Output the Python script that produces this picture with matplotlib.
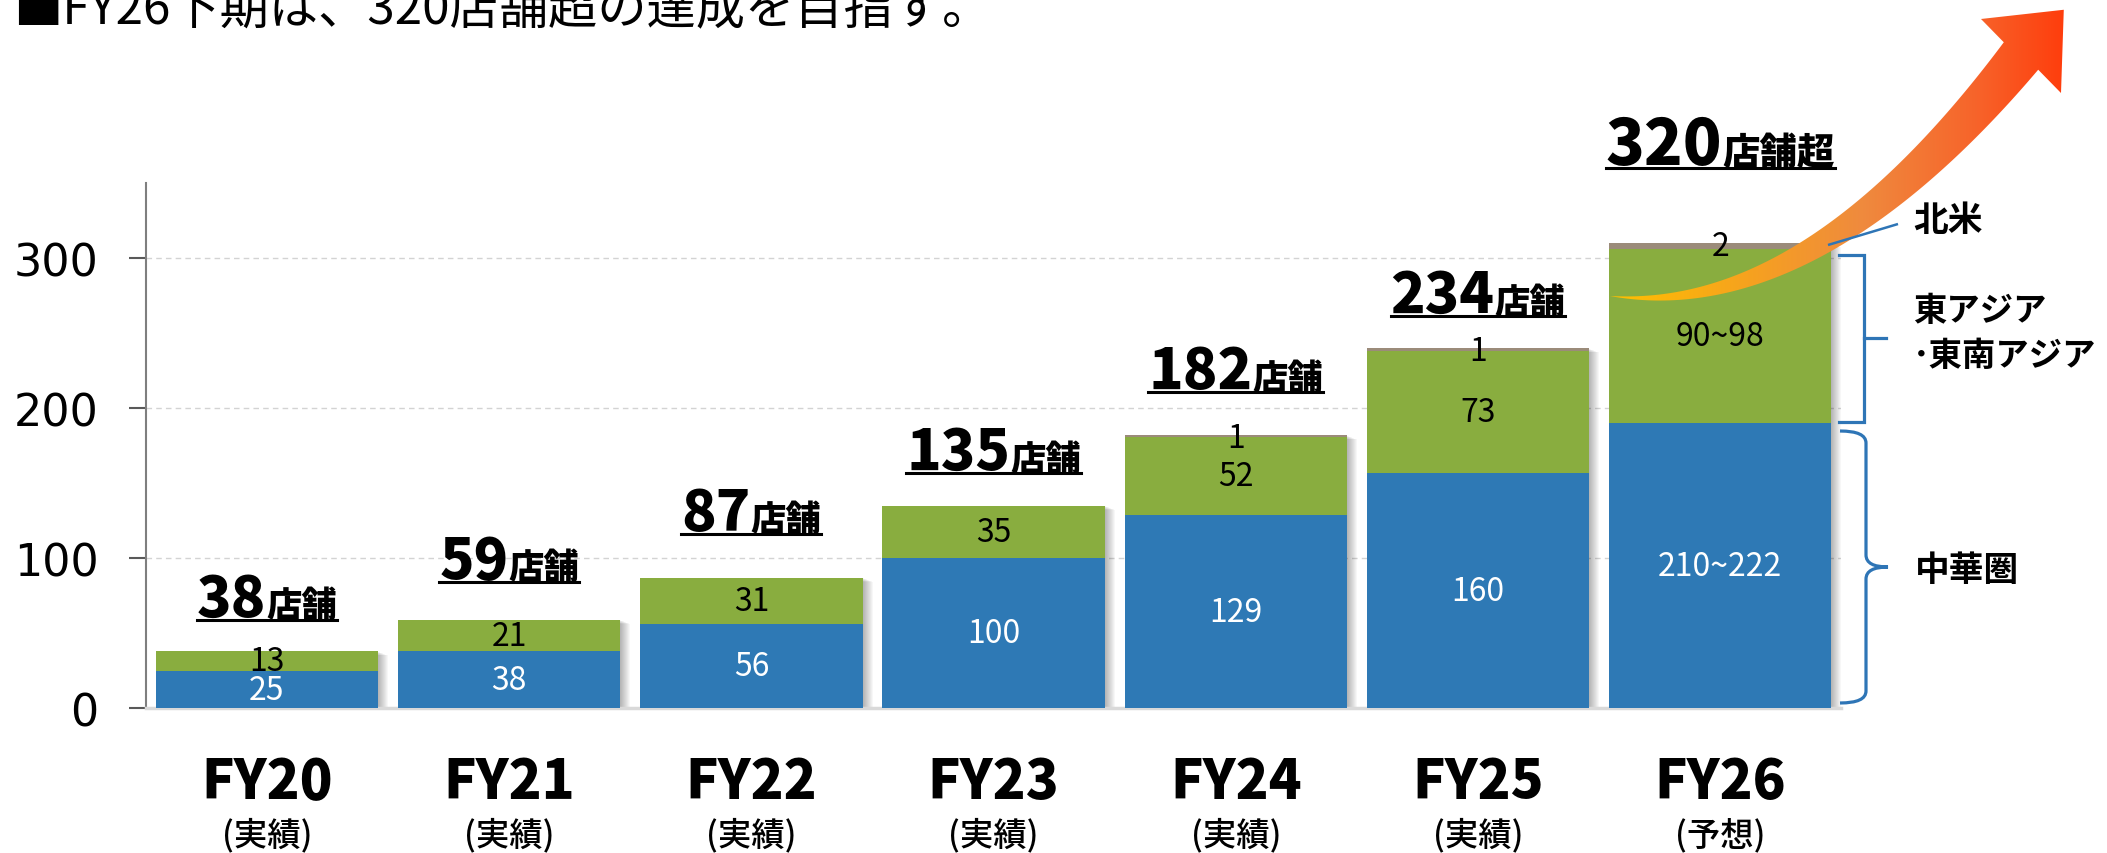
import numpy as np
import matplotlib
matplotlib.use('Agg')
import matplotlib.pyplot as plt
from matplotlib.path import Path
from matplotlib.patches import PathPatch, Polygon
from matplotlib.transforms import ScaledTranslation, IdentityTransform
from matplotlib.colors import LinearSegmentedColormap
from matplotlib.lines import Line2D

plt.rcParams['font.family'] = ['Noto Sans CJK JP', 'DejaVu Sans']

# ---------------- data ----------------
years = ['FY20', 'FY21', 'FY22', 'FY23', 'FY24', 'FY25', 'FY26']
status = ['(実績)', '(実績)', '(実績)', '(実績)', '(実績)', '(実績)', '(予想)']
china = [25, 38, 56, 100, 129, 157, 190]          # 中華圏 (drawn heights)
asia = [13, 21, 31, 35, 52, 81, 116]              # 東アジア・東南アジア
north_america = [0, 0, 0, 0, 1, 2, 4]             # 北米
china_labels = ['25', '38', '56', '100', '129', '160', '210~222']
asia_labels = ['13', '21', '31', '35', '52', '73', '90~98']
na_labels = ['', '', '', '', '1', '1', '2']
total_numbers = ['38', '59', '87', '135', '182', '234', '320']
total_suffix = ['店舗', '店舗', '店舗', '店舗', '店舗', '店舗', '店舗超']
yticks = [0, 100, 200, 300]
title = '■FY26下期は、320店舗超の達成を目指す。'

# ---------------- style ----------------
BLUE = '#2E79B5'
GREEN = '#89AD3F'
GRAY = '#9B8B7A'
BRACE = '#2E75B6'
W, H, DPI = 2107, 854, 100

fig = plt.figure(figsize=(W / DPI, H / DPI), dpi=DPI)
ax = fig.add_axes([145.9 / W, (H - 709.3) / H, 1695.4 / W, 525 / H])
x = np.arange(len(years))
bw = 0.919
china_a = np.array(china, float)
asia_a = np.array(asia, float)
na_a = np.array(north_america, float)
totals = china_a + asia_a + na_a

# soft drop shadow on the right of each bar
for k in range(1, 11):
    sh = ax.bar(x, totals, bw, color='black', alpha=0.03, zorder=1, linewidth=0)
    tr = ax.transData + ScaledTranslation(k / DPI, -0.4 * k / DPI, fig.dpi_scale_trans)
    for p in sh:
        p.set_transform(tr)

ax.bar(x, china_a, bw, color=BLUE, zorder=3, linewidth=0)
ax.bar(x, asia_a, bw, bottom=china_a, color=GREEN, zorder=3, linewidth=0)
ax.bar(x, na_a, bw, bottom=china_a + asia_a, color=GRAY, zorder=3, linewidth=0)

for i in x:
    ax.text(i, china_a[i] / 2, china_labels[i], ha='center', va='center',
            color='white', fontsize=23, zorder=4)
    ax.text(i, china_a[i] + asia_a[i] / 2, asia_labels[i], ha='center', va='center',
            color='black', fontsize=23, zorder=4)
    if na_labels[i]:
        ax.text(i, totals[i] - 1.5, na_labels[i], ha='center', va='center',
                color='black', fontsize=23, zorder=4)

ax.set_xlim(-0.5, 6.5)
ax.set_ylim(0, 350)
ax.set_yticks(yticks)
ax.set_xticks(x)
ax.set_xticklabels([''] * len(x))
ax.tick_params(axis='x', length=0)
ax.tick_params(axis='y', direction='out', length=12, width=1.5, color='#595959',
               labelsize=32, pad=22)
for lab in ax.get_yticklabels():
    lab.set_family('DejaVu Sans')
ax.yaxis.grid(True, linestyle=(0, (4, 3)), color='#D3D3D3', linewidth=1)
ax.set_axisbelow(True)
for s in ['top', 'right']:
    ax.spines[s].set_visible(False)
ax.spines['left'].set_color('#7F7F7F')
ax.spines['left'].set_linewidth(1.5)
ax.spines['bottom'].set_color('#D9D9D9')
ax.spines['bottom'].set_linewidth(2.5)

# category labels
for i in x:
    ax.annotate(years[i], xy=(i, 0), xycoords=('data', 'axes fraction'),
                xytext=(0, -(783 - 709.3) * 72 / DPI), textcoords='offset points',
                ha='center', va='center', fontsize=39, fontweight='heavy')
    ax.annotate(status[i], xy=(i, 0), xycoords=('data', 'axes fraction'),
                xytext=(0, -(836 - 709.3) * 72 / DPI), textcoords='offset points',
                ha='center', va='center', fontsize=24, fontweight='medium')

# title (cropped at top in the original)
fig.text(13 / W, (H - 24) / H, title, fontsize=35.5, ha='left', va='baseline')

# total labels with underline
label_offsets = [31.5, 38, 44, 32.5, 43, 32, 75]   # px above bar top (underline)
fig.canvas.draw()
renderer = fig.canvas.get_renderer()
for i in x:
    cx, ty = ax.transData.transform((i, totals[i]))
    uy = ty + label_offsets[i]
    by = uy + 4
    big = 46 if i == 6 else 41
    small = 27 if i == 6 else 25.5
    t1 = fig.text(0, 0, total_numbers[i], transform=IdentityTransform(), fontsize=big,
                  fontweight='heavy', ha='left', va='baseline')
    t2 = fig.text(0, 0, total_suffix[i], transform=IdentityTransform(), fontsize=small,
                  fontweight='heavy', ha='left', va='baseline')
    w1 = t1.get_window_extent(renderer).width
    w2 = t2.get_window_extent(renderer).width
    x0 = cx - (w1 + w2) / 2
    t1.set_position((x0, by))
    t2.set_position((x0 + w1, by))
    fig.add_artist(Line2D([x0, x0 + w1 + w2], [uy, uy], transform=IdentityTransform(),
                          color='black', linewidth=2.2))

# ---------------- overlay (image pixel coords) ----------------
ov = fig.add_axes([0, 0, 1, 1], zorder=5)
ov.set_xlim(0, W)
ov.set_ylim(H, 0)
ov.axis('off')
ov.patch.set_alpha(0)

# 北米 leader line
ov.plot([1828, 1898], [246, 225], color=BRACE, lw=1.8, solid_capstyle='butt')

# upper bracket (東アジア・東南アジア)
ov.plot([1839, 1864, 1864, 1839], [256, 256, 423, 423], color=BRACE, lw=2.3,
        solid_joinstyle='miter')
ov.plot([1864, 1886], [339, 339], color=BRACE, lw=2.3)

# lower curly brace (中華圏)
M, C3, L = Path.MOVETO, Path.CURVE3, Path.LINETO
verts = [(1840, 432), (1866, 432), (1866, 444), (1866, 556),
         (1866, 568), (1888, 568), (1866, 568), (1866, 580),
         (1866, 692), (1866, 704), (1840, 704)]
codes = [M, C3, C3, L, C3, C3, C3, C3, L, C3, C3]
ov.add_patch(PathPatch(Path(verts, codes), fill=False, edgecolor=BRACE, lw=2.3))

ov.text(1913, 220, '北米', fontsize=25, fontweight='bold', ha='left', va='center')
ov.text(1913, 312, '東アジア', fontsize=24, fontweight='bold', ha='left', va='center')
ov.text(1913, 357, '･東南アジア', fontsize=24, fontweight='bold', ha='left', va='center')
ov.text(1915, 571, '中華圏', fontsize=25, fontweight='bold', ha='left', va='center')

# gradient arrow
P0 = np.array([1610.0, 297.0])
P1 = np.array([1810.5, 321.0])
P2 = np.array([2021.0, 57.0])
t = np.linspace(0, 1, 120)[:, None]
C = (1 - t) ** 2 * P0 + 2 * t * (1 - t) * P1 + t ** 2 * P2
D = 2 * (1 - t) * (P1 - P0) + 2 * t * (P2 - P1)
D = D / np.linalg.norm(D, axis=1, keepdims=True)
N = np.column_stack([D[:, 1], -D[:, 0]])
half = 22 * t[:, 0] ** 0.95
upper = C + N * half[:, None]
lower = C - N * half[:, None]
hd = np.array([0.68, -0.735])
hd = hd / np.linalg.norm(hd)
hn = np.array([hd[1], -hd[0]])
base_mid = P2
left_c = base_mid + hn * 54.5
right_c = base_mid - hn * 54.5
tip = base_mid + hd * 63
poly = np.vstack([upper, left_c, tip, right_c, lower[::-1]])
arrow_patch = Polygon(poly, closed=True, facecolor='none', edgecolor='none')
ov.add_patch(arrow_patch)
cmap = LinearSegmentedColormap.from_list('arr', [(0, '#FFC000'), (0.3, '#F6A21F'),
                                                 (0.55, '#EF8A3E'), (0.8, '#F7632A'),
                                                 (1, '#FF3B0B')])
grad = np.linspace(0, 1, 256)[None, :]
im = ov.imshow(grad, extent=(1610, 2070, 0, 310), cmap=cmap, aspect='auto',
               interpolation='bilinear')
im.set_clip_path(arrow_patch)
ov.set_xlim(0, W)
ov.set_ylim(H, 0)

fig.savefig('out.png', dpi=DPI)
